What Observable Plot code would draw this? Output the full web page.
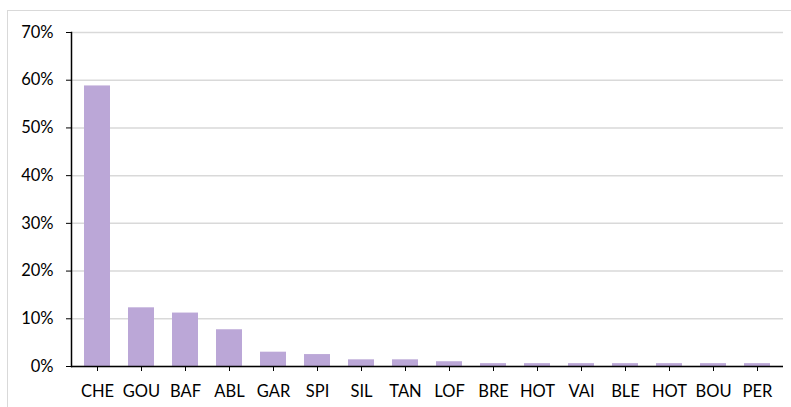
<!DOCTYPE html>
<html>
<head>
<meta charset="utf-8">
<script src="https://cdn.jsdelivr.net/npm/d3@7"></script>
<script src="https://cdn.jsdelivr.net/npm/@observablehq/plot@0.6"></script>
<style>
  html, body { margin: 0; padding: 0; background: #fff; overflow: hidden; }
  #wrap { position: relative; width: 791px; height: 407px; }
  #frame { position: absolute; left: 7px; top: 10px; width: 900px; height: 500px; border: 1.5px solid #d9d9d9; box-sizing: border-box; }
  #chart { position: absolute; left: 0; top: 0; }
</style>
</head>
<body>
<div id="wrap"><div id="frame"></div><div id="chart"></div></div>
<script>
const categories = ["CHE","GOU","BAF","ABL","GAR","SPI","SIL","TAN","LOF","BRE","HOT","VAI","BLE","HOT","BOU","PER"];
const shares = [58.8, 12.3, 11.2, 7.7, 3.0, 2.5, 1.4, 1.4, 1.0, 0.6, 0.6, 0.6, 0.6, 0.6, 0.6, 0.6];
const yTicks = [0, 10, 20, 30, 40, 50, 60, 70];

const data = categories.map((c, i) => ({i, label: c, value: shares[i] / 100}));

const chart = Plot.plot({
  width: 791,
  height: 407,
  marginLeft: 71,
  marginRight: 8,
  marginTop: 32,
  marginBottom: 41,
  style: {fontFamily: "Lato, sans-serif", fontSize: "16.5px", color: "#000", background: "transparent"},
  x: {domain: d3.range(categories.length), paddingInner: 0.42, paddingOuter: 0.21},
  y: {domain: [0, 0.7]},
  marks: [
    Plot.gridY(yTicks.map(t => t / 100), {stroke: "#d9d9d9", strokeOpacity: 1, strokeWidth: 1.5}),
    Plot.barY(data, {x: "i", y: "value", fill: "#bba7d7"}),
    Plot.ruleY([0], {stroke: "#000", strokeWidth: 1.5}),
    Plot.frame({anchor: "left", stroke: "#000", strokeWidth: 1.5}),
    Plot.axisY({ticks: yTicks.map(t => t / 100), tickFormat: d => Math.round(d * 100) + "%", tickSize: 5, tickPadding: 13, label: null, stroke: "#000", fontSize: 16.5}),
    Plot.axisX({tickFormat: i => categories[i], tickSize: 5, tickPadding: 14, label: null, stroke: "#000", fontSize: 16.5})
  ]
});
document.getElementById("chart").appendChild(chart);
</script>
</body>
</html>
